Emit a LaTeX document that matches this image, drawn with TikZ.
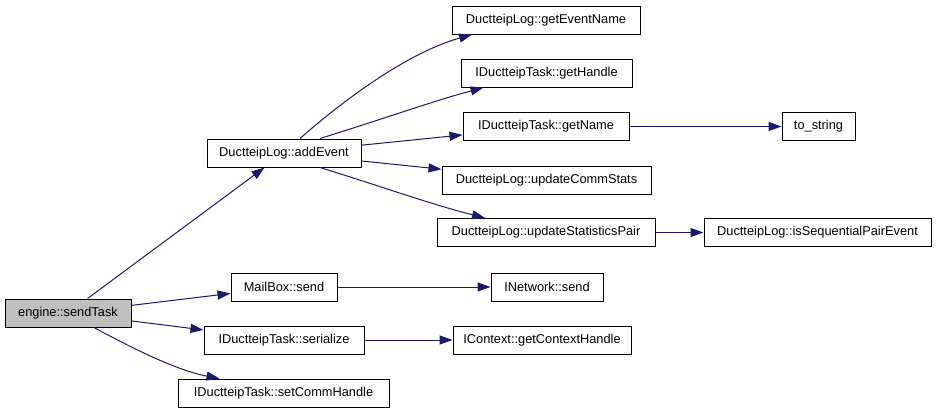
\documentclass[tikz,border=0pt]{standalone}
\usepackage{fontspec}
\setmainfont{Liberation Sans}
\usetikzlibrary{arrows.meta}
\definecolor{edgeblue}{HTML}{191970}
\definecolor{greyfill}{HTML}{BFBFBF}
\tikzset{
  fn/.style={draw=black, line width=1pt, rectangle, inner sep=0pt, minimum height=28pt,
    font=\fontsize{12.8}{15}\selectfont, fill=white},
  call/.style={draw=edgeblue, line width=1pt, -{Triangle[length=13pt,width=9pt]}, fill=none},
}
\begin{document}
\begin{tikzpicture}[x=1pt,y=-1pt]
\useasboundingbox (0,0) rectangle (939,413);
\node[fn, fill=greyfill, minimum width=126pt] (s) at (68,313) {engine::sendTask};
\node[fn, minimum width=154pt] (ae) at (284,153) {DuctteipLog::addEvent};
\node[fn, minimum width=106pt] (mb) at (284,287) {MailBox::send};
\node[fn, minimum width=160pt] (ser) at (284,340) {IDuctteipTask::serialize};
\node[fn, minimum width=211pt] (sch) at (283.5,393) {IDuctteipTask::setCommHandle};
\node[fn, minimum width=188pt] (gen) at (546,20) {DuctteipLog::getEventName};
\node[fn, minimum width=171pt] (gh) at (546.5,73) {IDuctteipTask::getHandle};
\node[fn, minimum width=166pt] (gn) at (546,126.5) {IDuctteipTask::getName};
\node[fn, minimum width=209pt] (ucs) at (546.5,180) {DuctteipLog::updateCommStats};
\node[fn, minimum width=218pt] (usp) at (546,232.5) {DuctteipLog::updateStatisticsPair};
\node[fn, minimum width=73pt] (ts) at (818.5,126.5) {to\_string};
\node[fn, minimum width=227pt] (isp) at (817.5,232.5) {DuctteipLog::isSequentialPairEvent};
\node[fn, minimum width=112pt] (ns) at (547,287) {INetwork::send};
\node[fn, minimum width=178pt] (gch) at (542,340) {IContext::getContextHandle};

\draw[call] (s) -- (ae);
\draw[call] (s) -- (mb);
\draw[call] (s) -- (ser);
\draw[call] ([xshift=26pt]s.south) .. controls (150,358) and (185,372) .. ([xshift=-64pt]sch.north);
\draw[call] ([xshift=16pt]ae.north) .. controls (330,112) and (400,55) .. ([xshift=-74pt]gen.south);
\draw[call] ([xshift=36pt]ae.north) .. controls (380,120) and (430,102) .. ([xshift=-63pt]gh.south);
\draw[call] (ae) -- (gn);
\draw[call] (ae) -- (ucs);
\draw[call] ([xshift=36pt]ae.south) .. controls (380,186) and (430,204) .. ([xshift=-61pt]usp.north);
\draw[call] (gn) -- (ts);
\draw[call] (usp) -- (isp);
\draw[call] (mb) -- (ns);
\draw[call] (ser) -- (gch);
\end{tikzpicture}
\end{document}
